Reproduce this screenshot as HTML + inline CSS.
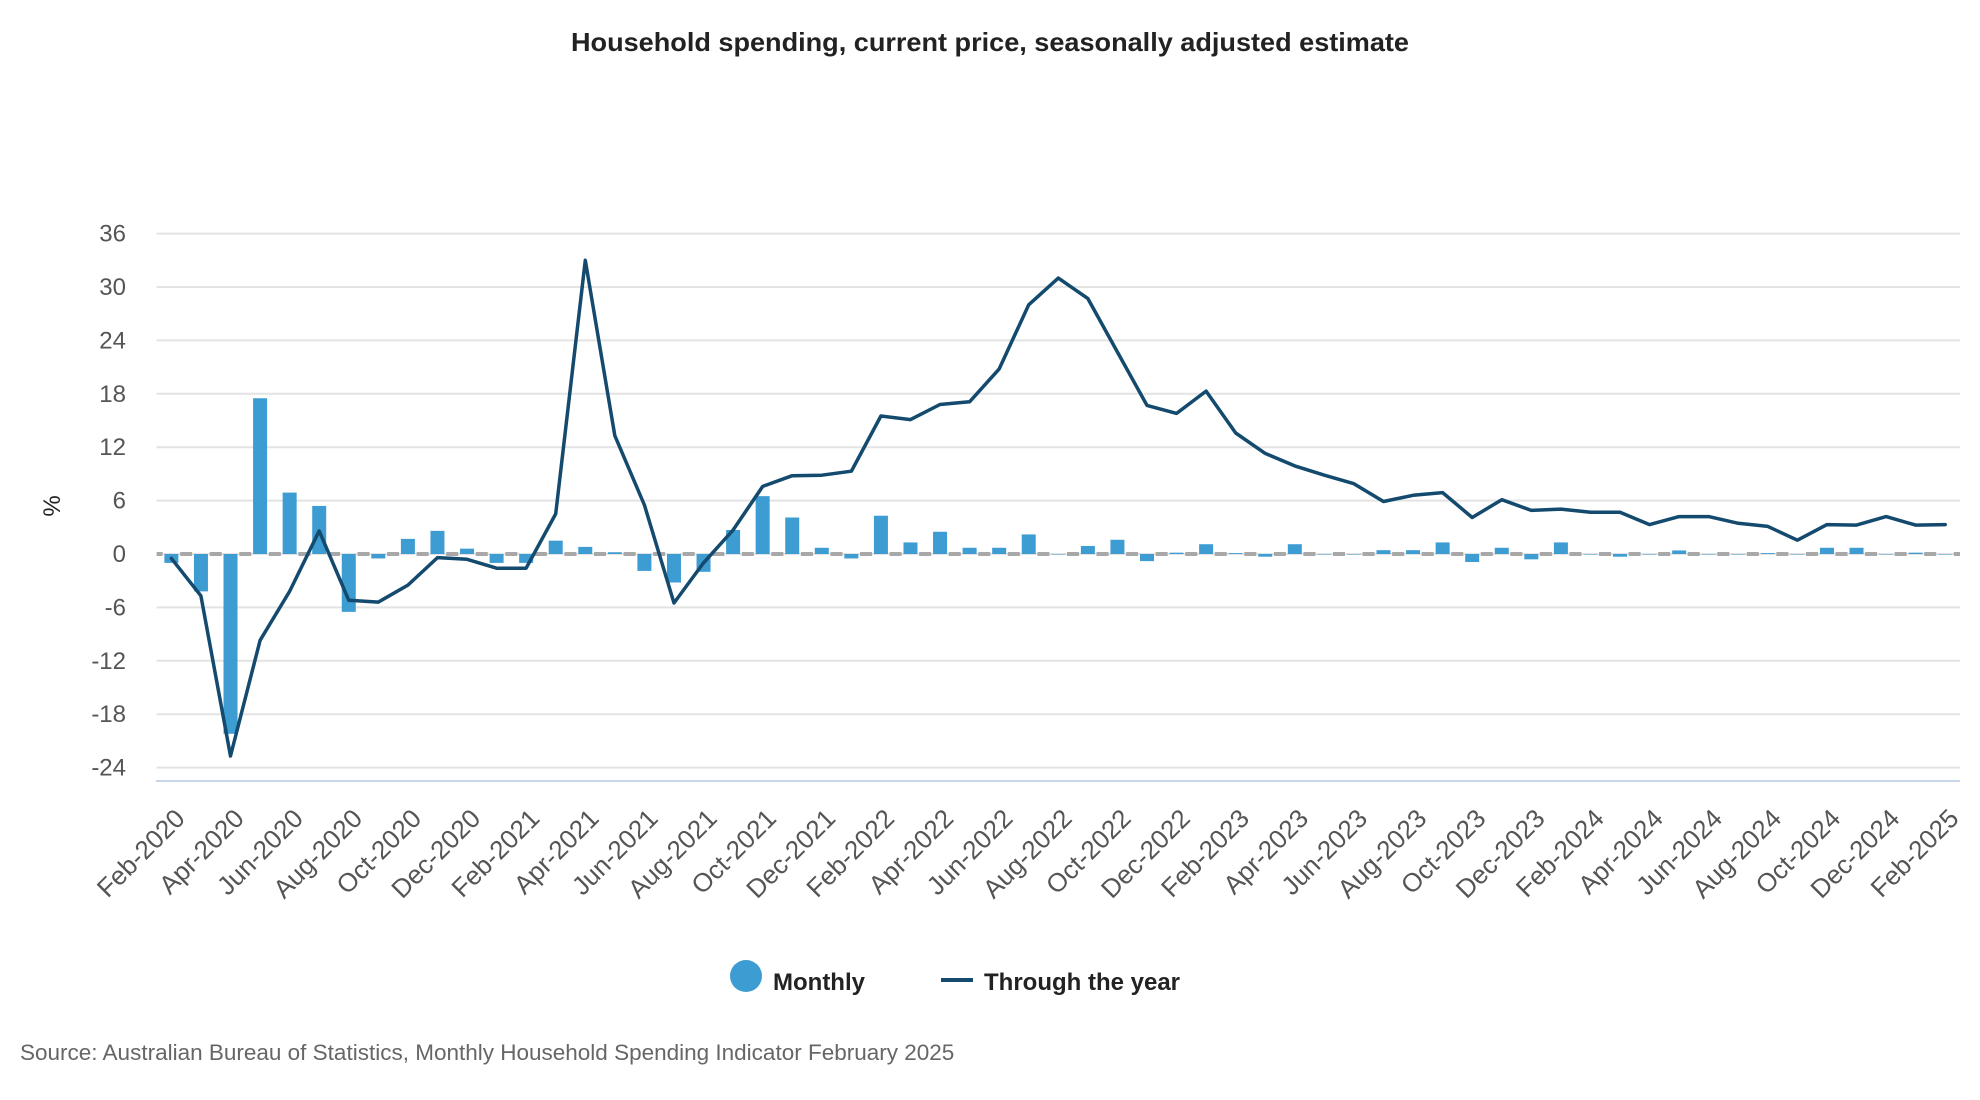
<!DOCTYPE html>
<html><head><meta charset="utf-8">
<style>
html,body{margin:0;padding:0;background:#fff;}
svg{display:block;font-family:"Liberation Sans",sans-serif;}
</style></head>
<body>
<svg id="chart" width="1980" height="1100" viewBox="0 0 1980 1100" xmlns="http://www.w3.org/2000/svg">
<text x="990" y="51" text-anchor="middle" font-size="26" font-weight="bold" fill="#222" textLength="838" lengthAdjust="spacingAndGlyphs">Household spending, current price, seasonally adjusted estimate</text>
<g id="grid"></g>
<g id="yticks"></g>
<text transform="translate(60,506) rotate(-90)" text-anchor="middle" font-size="24" fill="#222">%</text>
<g id="bars"></g>
<g id="zero"></g>
<g id="line"></g>
<g id="xticks"></g>
<line x1="156" y1="781" x2="1960" y2="781" stroke="#c9d6ea" stroke-width="2"/>
<g>
  <g>
    <circle cx="746" cy="976" r="16" fill="#3d9cd2"/>
    <text x="773" y="990" font-size="24" font-weight="bold" fill="#222">Monthly</text>
  </g>
  <g>
    <line x1="941" y1="980" x2="973" y2="980" stroke="#134a6e" stroke-width="4"/>
    <text x="984" y="990" font-size="24" font-weight="bold" fill="#222">Through the year</text>
  </g>
</g>
<text x="20" y="1060" font-size="22.5" fill="#666">Source: Australian Bureau of Statistics, Monthly Household Spending Indicator February 2025</text>
</svg>
<script>
const months = ["Feb","Mar","Apr","May","Jun","Jul","Aug","Sep","Oct","Nov","Dec","Jan"];
const startYear = 2020;
const monthly = [-1.0,-4.2,-20.2,17.5,6.9,5.4,-6.5,-0.5,1.7,2.6,0.6,-1.0,-1.0,1.5,0.8,0.2,-1.9,-3.2,-2.0,2.7,6.5,4.1,0.7,-0.5,4.3,1.3,2.5,0.7,0.7,2.2,0,0.9,1.6,-0.8,0.15,1.1,0.1,-0.3,1.1,0,0,0.43,0.43,1.3,-0.9,0.7,-0.6,1.3,0,-0.3,0,0.4,0,0,0.1,0,0.7,0.7,0,0.15,0];
const throughYear = [-0.5,-4.7,-22.7,-9.7,-4.2,2.6,-5.2,-5.4,-3.5,-0.4,-0.6,-1.6,-1.6,4.5,33.0,13.3,5.5,-5.5,-1.0,2.7,7.6,8.8,8.85,9.3,15.5,15.1,16.8,17.1,20.8,28.0,31.0,28.7,22.7,16.7,15.8,18.3,13.6,11.3,9.9,8.85,7.9,5.9,6.6,6.9,4.1,6.1,4.9,5.05,4.7,4.7,3.3,4.2,4.2,3.45,3.1,1.55,3.3,3.25,4.2,3.25,3.3];
const yTicks = [36,30,24,18,12,6,0,-6,-12,-18,-24];

const NS="http://www.w3.org/2000/svg";
const X0=156.6, X1=1960, Y36=233.6, PER6=53.4;
const n = monthly.length;
const band=(X1-X0)/n;
function xc(i){return X0+(i+0.5)*band;}
function y(v){return Y36+(36-v)/6*PER6;}
function mk(tag,attrs,parent){const e=document.createElementNS(NS,tag);for(const k in attrs)e.setAttribute(k,attrs[k]);parent.appendChild(e);return e;}
function label(i){const m=i%12;const yr=startYear+Math.floor((i+1)/12);return months[m]+"-"+yr;}

const grid=document.getElementById('grid'), yt=document.getElementById('yticks');
yTicks.forEach(t=>{
  const l=mk('line',{x1:X0,x2:X1,y1:y(t),y2:y(t),stroke:'#e3e3e3','stroke-width':2},grid);
  
  
  const tx=mk('text',{x:126,y:y(t)+8,'text-anchor':'end','font-size':24,fill:'#555'},yt);
  tx.textContent=String(t);
  
  
});

const bars=document.getElementById('bars');
monthly.forEach((v,i)=>{
  const y0=y(0), yv=y(v);
  const r=mk('rect',{x:xc(i)-7,y:Math.min(y0,yv),width:14,height:Math.max(Math.abs(yv-y0),0.5),fill:'#3d9cd2'},bars);
  
  
});

const zero=document.getElementById('zero');
const zl=mk('line',{x1:X0,x2:X1,y1:y(0),y2:y(0),stroke:'#a8a8a8','stroke-width':4,'stroke-dasharray':'12 '+(band-12).toFixed(2),'stroke-dashoffset':(6).toString()},zero);



const lg=document.getElementById('line');
const pts=throughYear.map((v,i)=>xc(i).toFixed(1)+","+y(v).toFixed(1)).join(" ");
const pl=mk('polyline',{points:pts,fill:'none',stroke:'#134a6e','stroke-width':3.5,'stroke-linejoin':'round','stroke-linecap':'round'},lg);



const xt=document.getElementById('xticks');
for(let i=0;i<n;i+=2){
  const bx=xc(i)+15, by=820;
  const t=mk('text',{transform:`translate(${bx.toFixed(1)},${by}) rotate(-45)`,'text-anchor':'end','font-size':26,fill:'#555'},xt);
  t.textContent=label(i);
  
  
}
</script>
</body></html>
